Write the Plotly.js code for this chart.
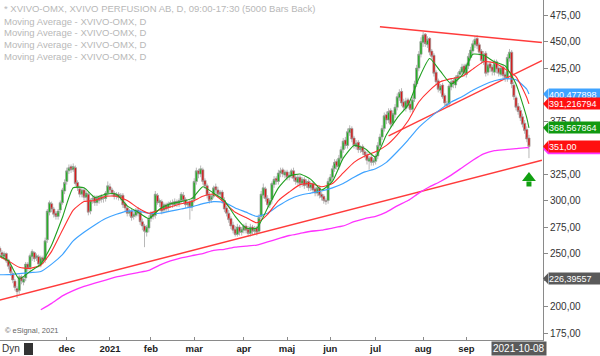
<!DOCTYPE html>
<html><head><meta charset="utf-8">
<script src="https://cdn.plot.ly/plotly-3.0.1.min.js"></script>
<style>html,body{margin:0;padding:0;background:#fff}#chart{width:600px;height:356px}</style>
</head><body><div id="chart"></div>
<script>
// ---------- DATA ----------
const firstTradingDay = '2020-10-16';
const holidays = ['2020-12-24','2020-12-25','2020-12-31','2021-01-01','2021-01-06','2021-04-02','2021-04-05','2021-05-13','2021-06-25'];

const opens = [
258,255,251,247,250,244,238,231,224,217,
215,228,223,227,240,237,247,251,246,247,
240,246,244,263,289,297,292,288,285,291,
298,309,318,328,332,329,331,317,311,306,
310,303,306,290,301,303,298,303,301,303,
302,307,313,310,307,304,306,303,305,297,
293,288,290,285,286,291,289,280,276,270,
274,283,288,286,305,298,299,291,296,293,
296,298,296,299,297,300,305,301,296,299,
294,301,318,328,325,329,319,314,305,301,
304,313,310,306,308,300,293,288,283,277,
273,268,275,270,272,276,273,269,275,271,
274,271,285,305,311,302,296,301,315,321,
318,326,329,324,327,322,324,328,322,317,
322,316,320,315,318,312,316,311,307,312,
306,304,300,300,318,322,330,337,332,340,
348,357,352,364,368,359,351,355,348,351,
346,343,337,341,336,337,342,352,360,368,
381,376,385,373,381,388,397,403,393,387,
395,391,386,396,410,425,438,449,457,447,
453,441,437,421,413,404,409,399,391,391,
407,413,409,415,419,421,427,419,427,435,
441,447,453,447,441,431,439,421,429,426,
421,431,425,419,426,419,415,434,440,409,
397,389,385,379,373,367,359];
const highs = [
260,257,253,252,251,245,240,233,226,219,
230,230,228,242,242,250,254,252,250,249,
248,248,265,292,300,299,294,290,292,300,
312,320,331,334,334,335,333,319,314,312,
312,309,308,302,305,305,305,305,306,305,
309,318,316,312,309,308,308,307,307,299,
295,292,292,289,293,294,291,283,278,277,
286,290,290,309,307,302,301,298,298,299,
300,301,302,301,302,308,308,303,300,301,
303,321,331,330,333,331,321,316,308,306,
314,316,313,310,310,303,295,291,285,280,
276,278,277,275,278,279,276,278,277,276,
276,287,309,316,313,305,302,318,323,323,
329,331,331,329,329,327,330,331,324,325,
324,322,322,320,320,318,318,313,314,314,
308,306,302,321,325,333,339,339,343,351,
359,360,368,371,370,361,357,357,352,353,
348,346,342,343,340,344,355,363,371,383,
384,387,387,385,391,401,405,406,396,397,
397,393,398,413,428,441,454,459,458,455,
454,443,439,423,415,410,411,401,394,410,
415,415,418,421,424,429,429,430,439,445,
451,455,456,449,443,441,441,430,431,428,
433,433,427,428,428,421,438,443,442,412,
399,392,388,382,376,370,362];
const lows = [
252,250,245,244,241,235,229,222,215,208,
212,221,220,224,233,234,243,242,243,237,
237,240,241,260,286,289,284,282,282,288,
296,306,315,325,326,327,314,309,303,303,
300,300,286,287,297,295,295,297,298,298,
299,304,307,304,301,301,300,300,293,290,
285,285,281,282,284,285,277,272,256,266,
270,280,282,283,296,294,287,288,289,290,
293,293,294,294,294,297,297,293,293,282,
290,298,315,321,322,315,311,302,297,298,
302,307,303,303,297,289,285,279,273,269,
266,266,267,267,269,269,266,266,268,268,
267,269,282,302,299,292,293,297,312,315,
315,322,322,321,319,319,321,318,315,314,
312,313,311,312,309,309,307,304,304,302,
300,297,296,297,315,319,327,329,329,337,
345,349,349,361,355,349,348,345,345,343,
340,334,329,333,333,334,339,349,357,365,
372,373,369,370,378,385,394,389,385,384,
387,383,383,393,407,422,435,445,445,444,
437,433,417,409,402,401,396,389,388,388,
404,406,406,412,416,418,417,416,424,432,
438,444,443,437,429,428,417,418,421,418,
418,420,417,417,415,412,412,431,406,395,
385,381,375,369,363,355,340];
const closes = [
255,252,248,250,243,238,232,225,218,214,
228,224,226,240,236,248,252,245,248,240,
246,243,262,290,298,292,287,285,290,298,
310,317,328,331,329,332,316,312,306,310,
303,307,289,300,302,298,303,300,304,302,
307,314,310,307,304,306,303,305,296,293,
288,290,284,287,291,288,280,276,271,275,
283,287,285,306,298,300,290,296,292,297,
298,296,299,297,300,306,300,296,298,294,
300,318,328,325,330,318,314,305,300,304,
312,310,306,308,300,292,288,282,276,272,
268,275,270,273,276,272,269,275,271,273,
270,284,306,312,302,296,300,316,320,318,
326,328,325,327,322,324,328,321,318,322,
316,320,314,318,312,316,310,307,312,305,
303,300,299,318,322,330,336,332,340,348,
356,352,365,368,358,352,354,348,350,346,
343,338,340,336,338,342,352,360,368,380,
376,384,372,382,388,398,402,392,388,394,
390,386,395,410,425,438,450,456,448,452,
440,436,420,412,405,408,398,392,390,408,
412,410,416,418,422,426,420,428,436,442,
448,452,446,440,432,438,420,428,425,422,
430,424,420,425,418,416,435,440,410,398,
388,384,378,372,366,358,351];

// moving averages every 5th session (+ last session)
const maGreen = [251,243,226,233,240,258,284,312,312,303, 306,306,295,289,283,292,297,299,302,313,
 307,300,285,274,274,293,312,323,325,320, 310,318,340,352,349,341,362,378,390,415,
 434,422,410,418,438,437,431,427,410,378, 368.567864];
const maRed = [250,243,237,236,239,252,272,291,299,300, 304,304,300,293,288,291,294,297,299,304,
 306,298,289,284,279,287,300,308,315,316, 313,316,326,336,342,346,352,362,375,393,
 404,412,415,417,424,431,430,424,417,397, 391.216794];
const maBlue = [230,230,231,232,233,240,249,262,270,277, 283,287,290,290,288,288,290,292,294,297,
 299,298,293,289,285,288,295,301,305,307, 309,312,316,322,327,330,336,346,357,369,
 378,386,393,398,404,409,413,415,414,405, 400.477898];
const maMagenta = [null,null,null,null,197,203,210,215,219,222, 225,228,230,232,234,239,243,246,248,250,
 253,254,256,257,258,261,264,267,269,271, 272,274,276,280,283,285,289,295,300,307,
 313,318,324,331,338,344,347,348,349,350, 349.6];
const dynValue = 226.39557;

// hand-drawn trend lines (date, price)
const trendLowX = ['2020-10-19','2021-10-18'], trendLowY = [206,338];
const trendRiseX = ['2021-07-09','2021-10-18'], trendRiseY = [361,432];
const trendTopX = ['2021-07-05','2021-10-18'], trendTopY = [464,449];
// buy arrow
const arrowDate = '2021-10-08', arrowHead = 321.2, arrowStem = 315.6;

const monthTickDates = ['2020-12-01','2021-01-04','2021-02-01','2021-03-01','2021-04-01','2021-05-03','2021-06-01','2021-07-01','2021-08-02','2021-08-30'];
const monthTickText = ['dec','2021','feb','mar','apr','maj','jun','jul','aug','sep'];
const yTicks = [175,200,225,250,275,300,325,350,375,400,425,450,475];
const yTicksCovered = [225,350,400]; // hidden behind value boxes

// ---------- trading calendar ----------
const dates = [];
(function(){
  const d = new Date(firstTradingDay + 'T00:00:00Z');
  while (dates.length < closes.length) {
    const s = d.toISOString().slice(0,10);
    const wd = d.getUTCDay();
    if (wd !== 0 && wd !== 6 && holidays.indexOf(s) < 0) dates.push(s);
    d.setUTCDate(d.getUTCDate() + 1);
  }
})();
const last = dates.length - 1;
const maX = dates.filter((d,i) => i % 5 === 0 || i === last);

const fmt = (v, n) => v.toFixed(n).replace('.', ',');

const traces = [
  {type:'scatter', mode:'lines', x:trendLowX, y:trendLowY, line:{color:'#ff3b3b', width:1.5}},
  {type:'scatter', mode:'lines', x:trendRiseX, y:trendRiseY, line:{color:'#ff3b3b', width:1.5}},
  {type:'scatter', mode:'lines', x:trendTopX, y:trendTopY, line:{color:'#ff3b3b', width:1.5}},
  {type:'scatter', mode:'lines', x:maX, y:maMagenta, line:{color:'#ff33ff', width:1.3, shape:'spline', smoothing:0.5}},
  {type:'scatter', mode:'lines', x:maX, y:maBlue, line:{color:'#3fa3ff', width:1.2, shape:'spline', smoothing:0.5}},
  {type:'scatter', mode:'lines', x:maX, y:maRed, line:{color:'#ff3030', width:1.1, shape:'spline', smoothing:0.5}},
  {type:'candlestick', x:dates, open:opens, high:highs, low:lows, close:closes,
   increasing:{line:{color:'#9a9a9a', width:0.7}, fillcolor:'#1fb01f'},
   decreasing:{line:{color:'#9a9a9a', width:0.7}, fillcolor:'#d81818'},
   whiskerwidth:0},
  {type:'scatter', mode:'lines', x:maX, y:maGreen, line:{color:'#1f9f1f', width:1.1, shape:'spline', smoothing:0.5}},
  {type:'scatter', mode:'markers', x:[arrowDate], y:[arrowStem], marker:{symbol:'square', size:5, color:'#11a011'}},
  {type:'scatter', mode:'markers', x:[arrowDate], y:[arrowHead], marker:{symbol:'triangle-up', size:12, color:'#11a011'}}
];

const PW = 543, PH = 340;
const ann = [];
const shapes = [];
const legendLines = [
  '* XVIVO-OMX, XVIVO PERFUSION AB, D, 09:00-17:30 (5000 Bars Back)',
  'Moving Average - XVIVO-OMX, D','Moving Average - XVIVO-OMX, D',
  'Moving Average - XVIVO-OMX, D','Moving Average - XVIVO-OMX, D'];
const legendY = [8,21,33,45,57];
legendLines.forEach((t,k) => ann.push({xref:'paper', yref:'paper', x:2/PW, y:1-legendY[k]/PH, xanchor:'left', yanchor:'middle',
  text:t, showarrow:false, font:{family:'Arial', size:9.5, color:'#b8b8b8'}}));
ann.push({xref:'paper', yref:'paper', x:3/PW, y:1-330/PH, xanchor:'left', yanchor:'middle', text:'© eSignal, 2021',
  showarrow:false, font:{family:'Arial', size:7.5, color:'#666'}});
ann.push({xref:'paper', yref:'paper', x:0, y:-9/PH, xanchor:'left', yanchor:'middle', text:'Dyn',
  showarrow:false, font:{family:'Arial', size:10, color:'#333'}});
shapes.push({type:'rect', xref:'paper', yref:'paper', x0:24/PW, x1:33/PW, y0:-15/PH, y1:-3/PH, fillcolor:'#333', line:{width:0}});
ann.push({xref:'paper', yref:'paper', x:519/PW, y:-8.5/PH, xanchor:'center', yanchor:'middle', text:dates[last],
  showarrow:false, bgcolor:'#5a5a5a', borderpad:1, font:{family:'Arial', size:10, color:'#fff'}});

const hu = 5.4/1.06;
const pointer = (v, c) => shapes.push({type:'path', xref:'paper', yref:'y',
  path:`M 1 ${v} L ${1+5/PW} ${v+hu} L ${1+5/PW} ${v-hu} Z`, fillcolor:c, line:{width:0}, layer:'above'});

// magenta MA value box, almost fully hidden behind the last-price box
const magV = maMagenta[maMagenta.length-1] - 0.9;
shapes.push({type:'rect', xref:'paper', yref:'y', x0:1+5/PW, x1:1+62/PW, y0:magV-hu, y1:magV+hu,
  fillcolor:'#ff33ff', line:{width:0}, layer:'above'});
pointer(magV, '#ff33ff');

const valueLabels = [
  {v:maBlue[maBlue.length-1], t:fmt(maBlue[maBlue.length-1],6), c:'#3fa3ff'},
  {v:maRed[maRed.length-1], t:fmt(maRed[maRed.length-1],6), c:'#ff1010'},
  {v:maGreen[maGreen.length-1], t:fmt(maGreen[maGreen.length-1],6), c:'#119911'},
  {v:closes[last], t:fmt(closes[last],2), c:'#ff1010'},
  {v:dynValue, t:fmt(dynValue,5), c:'#5a5a5a'}
];
valueLabels.forEach(L => {
  ann.push({xref:'paper', yref:'y', x:1+5/PW, y:L.v, xanchor:'left', yanchor:'middle', text:L.t, showarrow:false,
    bgcolor:L.c, borderpad:0, width:54, height:11, align:'left', font:{family:'Arial', size:9, color:'#fff'}});
  pointer(L.v, L.c);
});

const layout = {
  width:600, height:356, margin:{l:0, r:57, t:0, b:16},
  paper_bgcolor:'#fff', plot_bgcolor:'#fff', showlegend:false, separators:', ',
  boxgap:0, boxgroupgap:0,
  xaxis:{type:'date', range:['2020-10-19 02:24','2021-10-18 12:00'],
    rangebreaks:[{bounds:['sat','mon']},{values:holidays}],
    rangeslider:{visible:false}, showgrid:false, zeroline:false,
    showline:true, linecolor:'#8a8a8a', linewidth:1,
    ticks:'inside', ticklen:3, tickcolor:'#8a8a8a',
    tickvals:monthTickDates, ticktext:monthTickText,
    tickfont:{family:'Arial', size:9.5, color:'#222', weight:'bold'}},
  yaxis:{side:'right', range:[168.4,489.2], showgrid:false, zeroline:false,
    showline:true, linecolor:'#8a8a8a', linewidth:1,
    ticks:'outside', ticklen:4, tickcolor:'#8a8a8a',
    tickvals:yTicks, ticktext:yTicks.map(v => yTicksCovered.indexOf(v) >= 0 ? '' : fmt(v,2)),
    tickfont:{family:'Arial', size:10, color:'#333'}},
  annotations:ann, shapes:shapes
};
Plotly.newPlot('chart', traces, layout, {staticPlot:true, displayModeBar:false});
</script>
</body></html>
